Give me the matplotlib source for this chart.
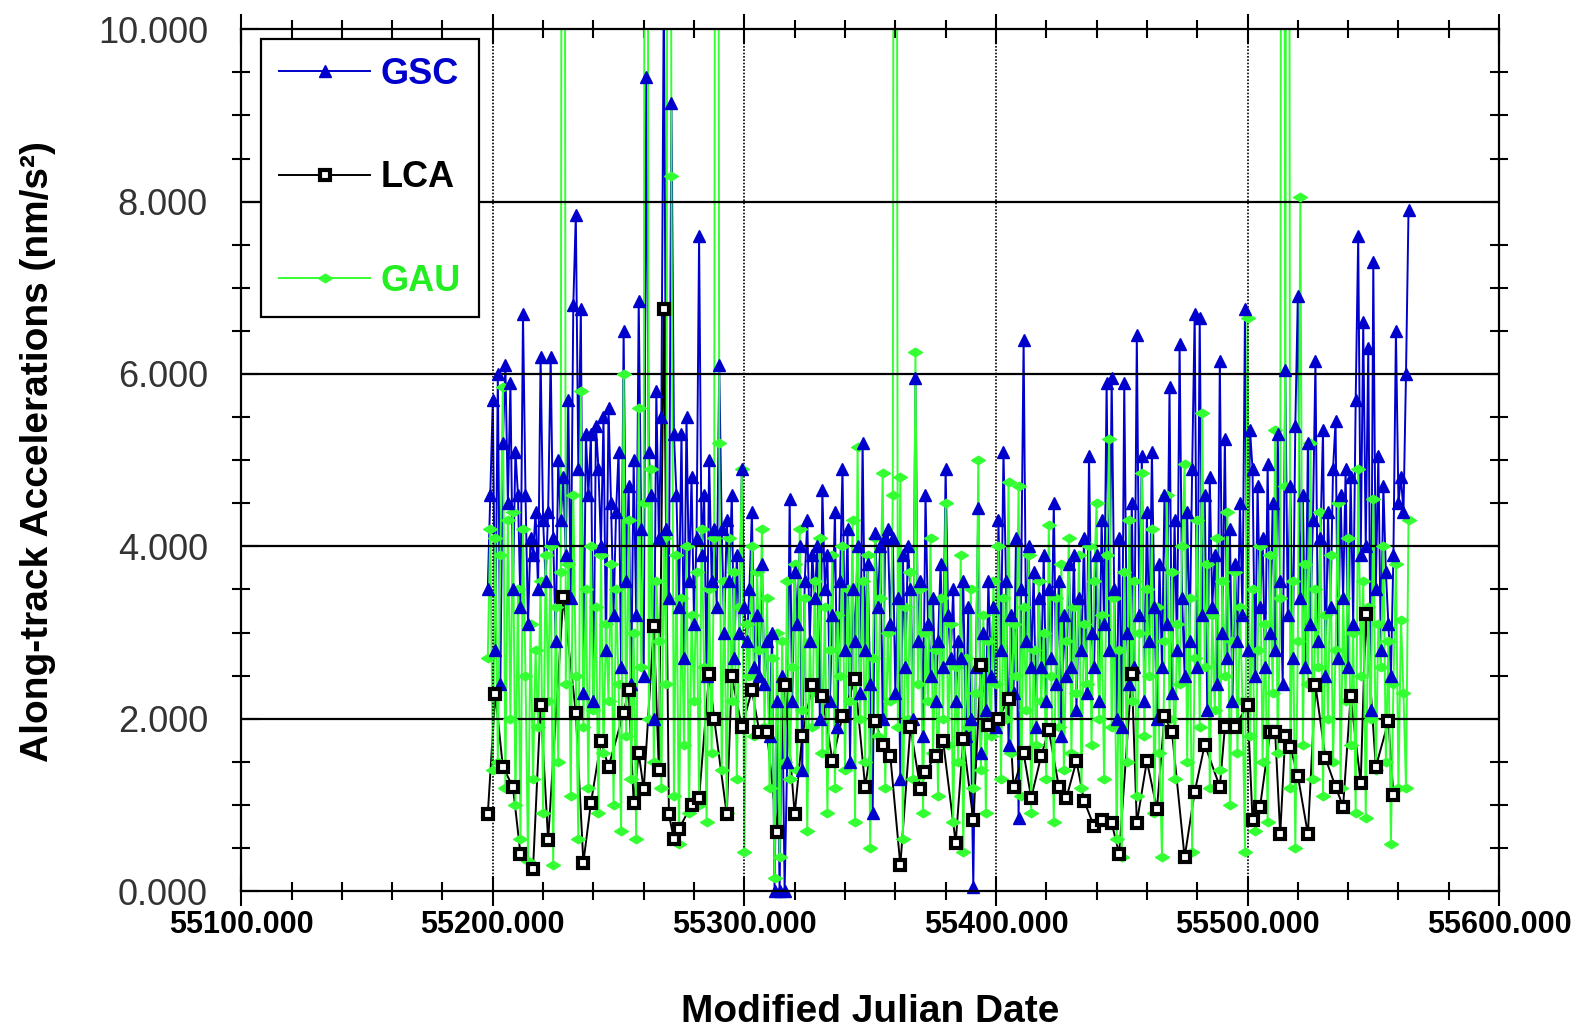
import numpy as np
import matplotlib
matplotlib.use("Agg")
import matplotlib.pyplot as plt
from matplotlib.lines import Line2D
from matplotlib.path import Path
from matplotlib.ticker import MultipleLocator, FormatStrFormatter

plt.rcParams['font.family'] = ['Liberation Sans', 'DejaVu Sans']

# daily series start at this MJD
first_day = 55198

# GSC, one value per day (nm/s^2)
gsc = [
    3.5, 4.6, 5.7, 2.8, 6.0, 2.4, 5.2, 6.1, 4.5, 5.9,
    3.5, 5.1, 4.6, 3.3, 6.7, 4.6, 3.1, 4.1, 3.9, 4.4,
    3.5, 6.2, 4.3, 3.6, 4.4, 6.2, 4.1, 2.9, 5.0, 4.3,
    4.8, 3.9, 5.7, 3.4, 6.8, 7.85, 4.9, 6.75, 2.3, 5.3,
    4.6, 5.3, 2.2, 5.4, 4.9, 4.0, 5.5, 2.8, 5.6, 4.5,
    3.2, 4.4, 5.1, 2.6, 6.5, 3.6, 4.7, 2.4, 5.0, 3.2,
    6.85, 4.2, 2.5, 9.45, 5.1, 4.6, 2.0, 5.8, 4.1, 5.5,
    10.6, 4.2, 3.4, 9.15, 5.3, 4.6, 3.3, 5.3, 2.7, 5.5,
    3.6, 4.8, 3.1, 4.1, 7.6, 3.9, 4.6, 2.5, 5.0, 3.6,
    4.2, 3.3, 6.1, 4.2, 3.0, 4.3, 3.6, 4.6, 2.7, 3.9,
    3.0, 4.9, 3.3, 2.9, 3.5, 4.4, 2.6, 3.2, 2.5, 3.8,
    2.4, 2.9, 1.8, 3.0, 0.0, 2.2, 0.0, 2.5, 0.0, 1.5,
    4.55, 2.2, 3.7, 3.1, 4.0, 1.4, 3.6, 4.3, 2.9, 3.9,
    3.4, 4.0, 2.0, 4.65, 3.5, 3.9, 2.2, 3.2, 4.4, 1.9,
    3.6, 4.9, 2.8, 4.2, 1.5, 3.5, 2.9, 4.0, 2.3, 5.2,
    2.8, 3.8, 2.4, 0.9, 4.15, 3.3, 4.0, 2.0, 4.1, 4.2,
    3.1, 4.1, 2.3, 3.4, 1.3, 3.9, 2.6, 4.0, 3.5, 2.0,
    5.95, 2.9, 3.6, 1.8, 4.6, 3.1, 2.5, 3.4, 2.2, 2.9,
    3.8, 2.6, 4.9, 3.2, 2.7, 3.5, 2.2, 2.9, 2.7, 3.6,
    1.8, 3.3, 2.0, 0.05, 2.6, 4.45, 1.6, 3.0, 2.1, 3.6,
    2.5, 3.3, 1.9, 4.3, 2.8, 5.1, 3.6, 1.7, 3.2, 2.3,
    4.1, 0.85, 3.5, 6.4, 2.9, 4.0, 2.6, 3.7, 1.9, 3.4,
    2.6, 3.9, 2.2, 3.5, 2.7, 4.5, 2.4, 3.6, 1.8, 3.2,
    2.5, 3.8, 2.6, 3.9, 2.1, 3.4, 2.8, 4.1, 2.3, 5.05,
    3.0, 2.6, 3.9, 2.2, 4.3, 3.1, 5.9, 2.8, 5.95, 3.5,
    2.0, 4.1, 1.9, 5.9, 3.0, 2.4, 4.5, 2.6, 6.45, 3.2,
    5.05, 2.2, 4.4, 2.9, 5.1, 3.3, 2.0, 3.8, 2.6, 4.6,
    3.1, 5.85, 2.3, 4.3, 2.8, 6.35, 3.4, 2.5, 4.4, 2.9,
    4.9, 6.7, 2.6, 6.65, 3.2, 4.6, 2.1, 4.8, 3.3, 3.9,
    2.4, 6.15, 3.0, 5.25, 2.7, 4.2, 2.2, 3.8, 2.9, 4.5,
    3.2, 6.75, 2.8, 5.35, 4.9, 2.5, 4.7, 3.3, 4.1, 2.6,
    4.95, 3.0, 4.5, 2.8, 5.3, 3.6, 2.4, 6.05, 3.2, 4.7,
    2.7, 5.4, 6.9, 3.4, 4.6, 2.6, 5.2, 3.1, 4.3, 6.15,
    2.9, 4.1, 5.35, 2.5, 4.4, 3.3, 4.9, 5.45, 2.7, 4.6,
    3.4, 4.9, 2.6, 4.8, 3.1, 5.7, 7.6, 3.9, 6.6, 4.0,
    6.3, 2.1, 7.3, 3.5, 5.05, 2.8, 4.7, 3.7, 3.1, 2.5,
    3.9, 6.5, 4.5, 4.8, 4.4, 6.0, 7.9,
]

# GAU, one value per day (values above 10 run off the top of the plot)
gau = [
    2.7, 4.2, 1.4, 4.1, 1.5, 3.9, 5.85, 1.2, 4.3, 2.0,
    4.4, 1.0, 3.5, 0.6, 4.2, 2.5, 0.35, 3.1, 1.3, 2.8,
    1.9, 3.6, 0.9, 3.9, 2.2, 4.0, 0.3, 3.3, 1.5, 3.7,
    30.0, 2.4, 3.8, 1.1, 4.6, 2.5, 0.6, 5.8, 1.9, 3.5,
    1.2, 4.0, 2.1, 3.3, 0.9, 3.9, 1.6, 3.1, 2.2, 3.8,
    1.0, 3.5, 2.4, 0.7, 6.0, 1.8, 4.3, 1.3, 3.0, 0.6,
    5.6, 2.6, 4.5, 30.0, 2.0, 4.9, 1.5, 3.6, 2.9, 1.2,
    4.1, 2.4, 30.0, 8.3, 1.1, 3.9, 0.55, 3.4, 1.7, 4.0,
    0.9, 3.2, 2.2, 3.7, 1.0, 4.2, 2.6, 0.8, 3.5, 1.6,
    4.1, 30.0, 5.2, 1.4, 3.6, 0.9, 4.1, 2.2, 3.7, 1.3,
    3.3, 4.9, 0.45, 3.1, 2.5, 4.0, 1.8, 3.7, 2.8, 4.2,
    1.9, 3.4, 1.2, 2.7, 0.15, 3.0, 0.4, 2.9, 1.5, 3.6,
    1.3, 2.6, 3.8, 1.4, 4.2, 2.1, 3.4, 0.7, 2.9, 1.9,
    3.6, 2.3, 4.1, 1.6, 3.3, 0.9, 2.8, 3.9, 1.2, 3.2,
    2.5, 4.0, 1.4, 3.5, 2.2, 4.3, 0.8, 5.15, 2.0, 3.6,
    1.5, 3.9, 0.5, 2.7, 4.1, 1.8, 3.4, 4.85, 1.2, 3.0,
    2.2, 4.6, 30.0, 1.9, 4.8, 0.6, 3.3, 2.0, 3.7, 1.3,
    6.25, 2.4, 3.5, 0.9, 3.0, 2.2, 4.1, 1.6, 2.8, 1.1,
    3.4, 2.0, 4.5, 1.7, 3.1, 0.8, 2.6, 1.5, 3.9, 0.45,
    2.7, 1.9, 3.5, 1.2, 2.3, 5.0, 1.4, 3.2, 0.9, 2.9,
    1.8, 3.6, 2.4, 4.0, 1.3, 3.4, 2.0, 4.75, 1.6, 3.1,
    2.5, 4.7, 1.1, 3.3, 2.1, 3.9, 0.9, 2.8, 1.7, 3.6,
    2.2, 3.0, 1.3, 4.25, 2.5, 0.8, 3.4, 1.9, 3.8, 1.4,
    2.9, 4.1, 1.6, 3.3, 2.3, 3.9, 1.2, 3.1, 2.4, 4.0,
    1.7, 3.6, 4.5, 2.0, 3.2, 1.3, 3.9, 5.25, 1.9, 3.4,
    0.6, 2.8, 0.4, 3.7, 1.5, 4.3, 2.2, 3.6, 1.1, 3.0,
    4.85, 1.8, 3.5, 2.5, 4.2, 0.9, 3.3, 1.6, 0.4, 2.9,
    4.6, 2.0, 3.7, 1.3, 3.1, 2.4, 4.0, 4.95, 1.5, 3.4,
    0.45, 2.7, 4.3, 1.9, 5.55, 2.6, 3.8, 1.2, 3.2, 2.1,
    4.1, 1.4, 3.6, 2.5, 4.4, 1.0, 2.9, 3.7, 1.6, 3.3,
    2.2, 0.45, 6.65, 1.8, 3.5, 0.7, 2.8, 4.0, 1.5, 3.1,
    0.8, 3.9, 2.3, 5.35, 1.6, 3.4, 30.0, 4.7, 30.0, 1.2,
    3.6, 0.5, 2.9, 8.05, 1.7, 3.8, 2.4, 5.2, 1.3, 3.5,
    2.6, 4.4, 1.1, 3.2, 2.0, 3.9, 1.5, 2.8, 4.5, 1.2,
    3.4, 2.2, 4.1, 1.7, 3.0, 0.9, 4.9, 2.5, 3.6, 0.85,
    3.3, 2.0, 4.55, 1.4, 3.1, 2.6, 4.0, 1.5, 2.9, 0.55,
    2.4, 3.8, 1.2, 3.15, 2.3, 1.2, 4.3,
]

# LCA, sparser sampling
lca_days = [
    55198, 55201, 55204, 55208, 55211, 55216, 55219, 55222, 55228, 55233,
    55236, 55239, 55243, 55246, 55252, 55254, 55256, 55258, 55260, 55264,
    55266, 55268, 55270, 55272, 55274, 55279, 55282, 55286, 55288, 55293,
    55295, 55299, 55303, 55306, 55309, 55313, 55316, 55320, 55323, 55327,
    55331, 55335, 55339, 55344, 55348, 55352, 55355, 55358, 55362, 55366,
    55370, 55372, 55376, 55379, 55384, 55387, 55391, 55394, 55397, 55401,
    55405, 55407, 55411, 55414, 55418, 55421, 55425, 55428, 55432, 55435,
    55439, 55442, 55446, 55449, 55454, 55456, 55460, 55464, 55467, 55470,
    55475, 55479, 55483, 55489, 55491, 55495, 55500, 55502, 55505, 55509,
    55511, 55513, 55515, 55517, 55520, 55524, 55527, 55531, 55535, 55538,
    55541, 55545, 55547, 55551, 55556, 55558,
]
lca = [
    0.89, 2.29, 1.44, 1.21, 0.43, 0.26, 2.16, 0.59, 3.41, 2.07,
    0.33, 1.02, 1.74, 1.44, 2.07, 2.33, 1.02, 1.6, 1.18, 3.08,
    1.41, 6.75, 0.89, 0.6, 0.72, 1.0, 1.08, 2.52, 2.0, 0.89,
    2.49, 1.9, 2.33, 1.84, 1.84, 0.69, 2.39, 0.89, 1.8, 2.39,
    2.26, 1.51, 2.03, 2.46, 1.21, 1.97, 1.7, 1.57, 0.3, 1.9,
    1.18, 1.38, 1.57, 1.74, 0.56, 1.77, 0.82, 2.62, 1.93, 2.0,
    2.23, 1.21, 1.6, 1.08, 1.57, 1.87, 1.21, 1.08, 1.51, 1.05,
    0.75, 0.82, 0.79, 0.43, 2.52, 0.79, 1.51, 0.95, 2.03, 1.84,
    0.39, 1.15, 1.7, 1.21, 1.9, 1.9, 2.16, 0.82, 0.98, 1.84,
    1.84, 0.66, 1.8, 1.67, 1.34, 0.66, 2.39, 1.54, 1.21, 0.98,
    2.26, 1.25, 3.21, 1.44, 1.97, 1.11,
]

blue = '#0000CC'
green = '#33FF33'

days = first_day + np.arange(len(gsc))
gsc = np.array(gsc)
gau = np.array(gau)

fig = plt.figure(figsize=(15.87, 10.32), dpi=100)
ax = fig.add_axes([0.152, 0.1366, 0.7926, 0.835])

# flattened diamond for GAU
flat_diamond = Path([(-1, 0), (0, 0.62), (1, 0), (0, -0.62), (-1, 0)],
                    [Path.MOVETO, Path.LINETO, Path.LINETO, Path.LINETO, Path.CLOSEPOLY])

# lines first, markers on top of all lines
ax.plot(days, gsc, color=blue, lw=1.4, zorder=2.0)
ax.plot(lca_days, lca, color='black', lw=1.4, zorder=2.1)
ax.plot(days, gau, color=green, lw=1.4, zorder=2.2)

inside = gau <= 10
ax.plot(days[inside], gau[inside], ls='none', marker=flat_diamond, ms=10,
        color=green, zorder=3.0, clip_on=False)
inside = gsc <= 10
ax.plot(days[inside], gsc[inside], ls='none', marker='^', ms=8,
        color=blue, zorder=3.1, clip_on=False)
ax.plot(lca_days, lca, ls='none', marker='s', ms=7, mfc='white', mec='black',
        mew=3, zorder=3.2, clip_on=False)

# grid
for y in [2, 4, 6, 8]:
    ax.axhline(y, color='black', lw=1.6, zorder=2.5)
for x in [55200, 55300, 55400, 55500]:
    ax.axvline(x, color='black', lw=1.2, ls=(0, (1, 1)), zorder=2.5)

ax.set_xlim(55100, 55600)
ax.set_ylim(0, 10)
ax.xaxis.set_major_locator(MultipleLocator(100))
ax.xaxis.set_minor_locator(MultipleLocator(20))
ax.yaxis.set_major_locator(MultipleLocator(2))
ax.yaxis.set_minor_locator(MultipleLocator(0.5))
ax.xaxis.set_major_formatter(FormatStrFormatter('%.3f'))
ax.yaxis.set_major_formatter(FormatStrFormatter('%.3f'))

for s in ax.spines.values():
    s.set_linewidth(1.6)
    s.set_zorder(4)

ax.tick_params(axis='x', which='major', direction='inout', length=22, width=1.5,
               top=True, pad=3, labelsize=22)
ax.tick_params(axis='x', which='minor', direction='inout', length=13, width=1.5, top=True)
ax.tick_params(axis='y', which='major', direction='in', length=13, width=1.5,
               right=True, pad=24, labelsize=26, labelcolor='#333333')
ax.tick_params(axis='y', which='minor', direction='inout', length=13, width=1.5, right=True)
for lab in ax.get_xticklabels():
    lab.set_fontweight('bold')

fig.text(38 / 1587, 1 - 452 / 1032, 'Along-track Accelerations (nm/s²)',
         rotation=90, ha='center', va='center', fontsize=28, fontweight='bold')
fig.text(870 / 1587, 1 - 1012 / 1032, 'Modified Julian Date',
         ha='center', va='center', fontsize=28, fontweight='bold')

# legend
handles = [
    Line2D([], [], color=blue, lw=1.4, marker='^', ms=8),
    Line2D([], [], color='black', lw=1.4, marker='s', ms=7, mfc='white', mec='black', mew=3),
    Line2D([], [], color=green, lw=1.4, marker=flat_diamond, ms=10),
]
leg = ax.legend(handles, ['GSC', 'LCA', 'GAU'], loc='upper left',
                bbox_to_anchor=(0.016, 0.989), borderaxespad=0, fancybox=False,
                framealpha=1, edgecolor='black', handlelength=2.5, handletextpad=0.3,
                labelspacing=1.9, borderpad=0.5,
                prop={'size': 26, 'weight': 'bold'})
leg.get_frame().set_linewidth(1.6)
leg.set_zorder(5)
for t, c in zip(leg.get_texts(), [blue, 'black', '#22EE22']):
    t.set_color(c)

fig.savefig('out.png', dpi=100)
